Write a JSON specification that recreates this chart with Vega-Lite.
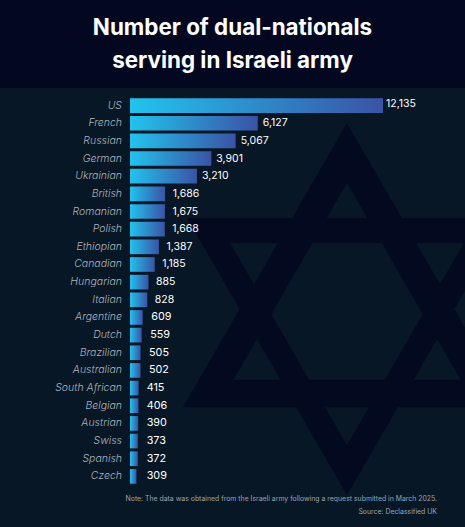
{"$schema":"https://vega.github.io/schema/vega-lite/v6.json","width":465,"height":439,"autosize":{"type":"none"},"padding":{"left":0,"right":0,"top":88,"bottom":0},"background":"#030820","view":{"fill":"#081725","stroke":null},"title":{"text":["Number of dual-nationals","serving in Israeli army"],"anchor":"middle","font":"Inter","fontWeight":700,"fontSize":22.4,"lineHeight":33,"color":"#ffffff","offset":16,"frame":"group"},"data":{"values":[{"nationality":"US","count":12135},{"nationality":"French","count":6127},{"nationality":"Russian","count":5067},{"nationality":"German","count":3901},{"nationality":"Ukrainian","count":3210},{"nationality":"British","count":1686},{"nationality":"Romanian","count":1675},{"nationality":"Polish","count":1668},{"nationality":"Ethiopian","count":1387},{"nationality":"Canadian","count":1185},{"nationality":"Hungarian","count":885},{"nationality":"Italian","count":828},{"nationality":"Argentine","count":609},{"nationality":"Dutch","count":559},{"nationality":"Brazilian","count":505},{"nationality":"Australian","count":502},{"nationality":"South African","count":415},{"nationality":"Belgian","count":406},{"nationality":"Austrian","count":390},{"nationality":"Swiss","count":373},{"nationality":"Spanish","count":372},{"nationality":"Czech","count":309}]},"encoding":{"y":{"field":"nationality","type":"nominal","sort":null,"axis":null,"scale":{"domain":["US","French","Russian","German","Ukrainian","British","Romanian","Polish","Ethiopian","Canadian","Hungarian","Italian","Argentine","Dutch","Brazilian","Australian","South African","Belgian","Austrian","Swiss","Spanish","Czech"],"range":[10.24,395.7],"paddingInner":0.17,"paddingOuter":0}}},"layer":[{"data":{"values":[{"decoration":"star"}]},"mark":{"type":"point","filled":true,"opacity":1,"color":"#030a20","size":160000,"shape":"M0,-0.884L0.82,0.537L-0.82,0.537ZM0,-0.584L-0.568,0.4L0.568,0.4ZM0,0.977L-0.8,-0.409L0.8,-0.409ZM0,0.727L0.584,-0.284L-0.584,-0.284Z"},"encoding":{"x":{"datum":10408,"type":"quantitative","scale":{"domain":[-6235,16067],"zero":false,"nice":false},"axis":null,"title":null},"y":{"datum":"Italian","type":"nominal","sort":null}}},{"mark":{"type":"bar","color":{"gradient":"linear","x1":0,"x2":1,"y1":0,"y2":0,"stops":[{"offset":0,"color":"#22c3ee"},{"offset":1,"color":"#3a53a6"}]}},"encoding":{"x":{"field":"count","type":"quantitative","axis":null,"title":null}}},{"mark":{"type":"text","align":"right","dx":-8,"font":"Inter","fontStyle":"italic","fontWeight":300,"fontSize":10.5,"color":"#aab5be"},"encoding":{"x":{"datum":0,"type":"quantitative"},"text":{"field":"nationality"}}},{"transform":[{"filter":"datum.count >= 10000"}],"mark":{"type":"text","align":"left","dx":3,"dy":-2,"font":"Inter","fontSize":10.5,"color":"#ffffff"},"encoding":{"x":{"field":"count","type":"quantitative"},"text":{"field":"count","format":","}}},{"transform":[{"filter":"datum.count >= 3000 && datum.count < 10000"}],"mark":{"type":"text","align":"left","dx":5,"font":"Inter","fontSize":10.5,"color":"#ffffff"},"encoding":{"x":{"field":"count","type":"quantitative"},"text":{"field":"count","format":","}}},{"transform":[{"filter":"datum.count >= 800 && datum.count < 3000"}],"mark":{"type":"text","align":"left","dx":7.5,"font":"Inter","fontSize":10.5,"color":"#ffffff"},"encoding":{"x":{"field":"count","type":"quantitative"},"text":{"field":"count","format":","}}},{"transform":[{"filter":"datum.count >= 500 && datum.count < 800"}],"mark":{"type":"text","align":"left","dx":8.5,"font":"Inter","fontSize":10.8,"color":"#ffffff"},"encoding":{"x":{"field":"count","type":"quantitative"},"text":{"field":"count","format":","}}},{"transform":[{"filter":"datum.count < 500"}],"mark":{"type":"text","align":"left","font":"Inter","fontSize":10.8,"color":"#ffffff"},"encoding":{"x":{"datum":800,"type":"quantitative"},"text":{"field":"count","format":","}}},{"data":{"values":[{"note":"Note: The data was obtained from the Israeli army following a request submitted in March 2025."}]},"mark":{"type":"text","align":"right","dy":23,"font":"Inter","fontSize":6.9,"color":"#98a3ad"},"encoding":{"x":{"datum":14724,"type":"quantitative"},"y":{"datum":"Czech","type":"nominal","sort":null},"text":{"field":"note"}}},{"data":{"values":[{"note":"Source: Declassified UK"}]},"mark":{"type":"text","align":"right","dy":36,"font":"Inter","fontSize":6.9,"color":"#98a3ad"},"encoding":{"x":{"datum":14724,"type":"quantitative"},"y":{"datum":"Czech","type":"nominal","sort":null},"text":{"field":"note"}}}]}
